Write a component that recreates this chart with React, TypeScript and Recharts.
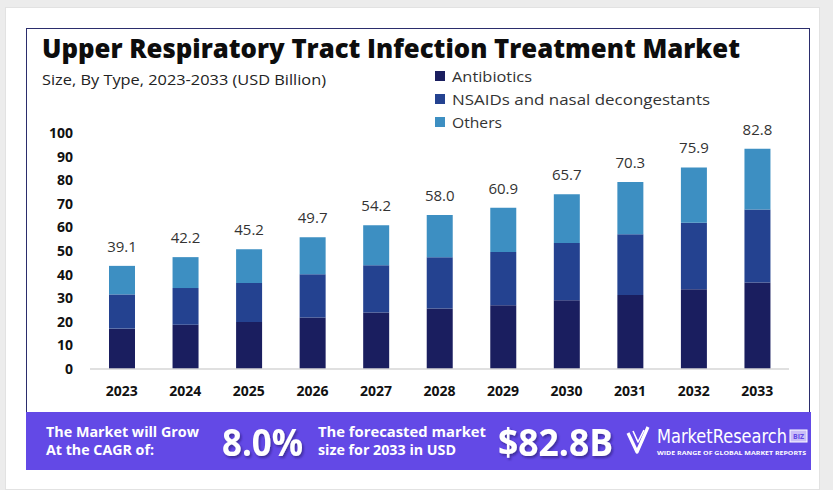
import { BarChart, Bar, XAxis, YAxis, Legend, LabelList } from "recharts"

const YEARS = ["2023", "2024", "2025", "2026", "2027", "2028", "2029", "2030", "2031", "2032", "2033"]
const ANTIBIOTICS = [17.1, 18.8, 19.9, 21.8, 23.9, 25.6, 27.0, 29.1, 31.4, 33.8, 36.7]
const NSAIDS = [14.5, 15.5, 16.5, 18.4, 20.1, 21.8, 22.6, 24.3, 25.7, 28.2, 30.9]
const OTHERS = [12.1, 13.1, 14.3, 15.6, 16.9, 17.9, 18.7, 20.6, 22.1, 23.4, 25.7]
const TOTAL_LABELS = ["39.1", "42.2", "45.2", "49.7", "54.2", "58.0", "60.9", "65.7", "70.3", "75.9", "82.8"]
const Y_TICKS = [0, 10, 20, 30, 40, 50, 60, 70, 80, 90, 100]

const SERIES = [
  { key: "antibiotics", name: "Antibiotics", color: "#1a1e5f", width: 80 },
  { key: "nsaids", name: "NSAIDs and nasal decongestants", color: "#244290", width: 258 },
  { key: "others", name: "Others", color: "#3d8fc2", width: 50 },
]

const data = YEARS.map((year, i) => ({
  year,
  antibiotics: ANTIBIOTICS[i],
  nsaids: NSAIDS[i],
  others: OTHERS[i],
  total: TOTAL_LABELS[i],
}))

const FONT = "'Open Sans', 'Noto Sans', sans-serif"
const PURPLE = "#6349e6"

const LegendBox = () => (
  <svg width={300} height={70} style={{ display: "block" }}>
    {SERIES.map((s, i) => (
      <g key={s.key} transform={`translate(0, ${i * 23})`}>
        <rect x={0} y={7} width={10} height={10} fill={s.color} />
        <text
          x={17}
          y={12}
          dominantBaseline="central"
          fontSize={15}
          fill="#333"
          fontFamily={FONT}
          textLength={s.width}
          lengthAdjust="spacingAndGlyphs"
        >
          {s.name}
        </text>
      </g>
    ))}
  </svg>
)

export default function App() {
  return (
    <div style={{ position: "fixed", left: 0, top: 0, width: 833, height: 490, background: "#ececec", overflow: "hidden" }}>
      {/* white panel + navy card + banner */}
      <div style={{ position: "absolute", left: 5, top: 7, width: 815, height: 483, background: "#fff", border: "1px solid #e2e2e2", boxSizing: "border-box" }} />
      <div style={{ position: "absolute", left: 26, top: 28, width: 784, height: 385, border: "1.5px solid #2b2d6c", borderBottom: "none", boxSizing: "border-box" }} />
      <div style={{ position: "absolute", left: 26, top: 412, width: 785, height: 58, background: PURPLE }} />

      <div style={{ position: "absolute", left: 0, top: 0 }}>
        <BarChart width={833} height={490} data={data} margin={{ top: 133, right: 44, bottom: 91, left: 30 }}>
          <XAxis
            dataKey="year"
            height={30}
            interval={0}
            tickLine={false}
            tickSize={0}
            tickMargin={17}
            axisLine={{ stroke: "#d6d6d6", strokeWidth: 1.5 }}
            tick={{ fontSize: 14, fontWeight: 700, fill: "#111", fontFamily: FONT }}
          />
          <YAxis
            type="number"
            domain={[0, 100]}
            ticks={Y_TICKS}
            interval={0}
            width={60}
            axisLine={false}
            tickLine={false}
            tickSize={0}
            tickMargin={17}
            tick={{ fontSize: 14, fontWeight: 700, fill: "#111", fontFamily: FONT }}
          />
          <Legend
            layout="vertical"
            align="center"
            verticalAlign="middle"
            wrapperStyle={{ left: 435, top: 64, width: 300 }}
            content={() => <LegendBox />}
          />
          {SERIES.map((s, i) => (
            <Bar key={s.key} dataKey={s.key} name={s.name} stackId="a" fill={s.color} barSize={26} isAnimationActive={false}>
              {i === SERIES.length - 1 && (
                <LabelList dataKey="total" position="top" offset={14} style={{ fontSize: 15, fill: "#333", fontFamily: FONT }} />
              )}
            </Bar>
          ))}
        </BarChart>
      </div>

      <svg width={833} height={490} style={{ position: "absolute", left: 0, top: 0, pointerEvents: "none" }}>
        <defs>
          <filter id="sh" x="-10%" y="-10%" width="130%" height="140%">
            <feDropShadow dx="1.5" dy="2" stdDeviation="1.2" floodColor="#1d1160" floodOpacity="0.55" />
          </filter>
        </defs>
        <text x={42} y={48} dominantBaseline="central" fontSize={26} fontWeight={800} fill="#0d0d0d" fontFamily={FONT} textLength={698} lengthAdjust="spacingAndGlyphs">
          Upper Respiratory Tract Infection Treatment Market
        </text>
        <text x={42} y={79} dominantBaseline="central" fontSize={15} fill="#222" fontFamily={FONT} textLength={284} lengthAdjust="spacingAndGlyphs">
          Size, By Type, 2023-2033 (USD Billion)
        </text>

        <g fill="#fff" fontFamily={FONT} fontWeight={700}>
          <text x={46} y={432} dominantBaseline="central" fontSize={13.5} textLength={153} lengthAdjust="spacingAndGlyphs">The Market will Grow</text>
          <text x={46} y={450} dominantBaseline="central" fontSize={13.5} textLength={108} lengthAdjust="spacingAndGlyphs">At the CAGR of:</text>
          <text x={222} y={441} dominantBaseline="central" fontSize={37} filter="url(#sh)" textLength={81} lengthAdjust="spacingAndGlyphs">8.0%</text>
          <text x={318} y={432} dominantBaseline="central" fontSize={13.5} textLength={168} lengthAdjust="spacingAndGlyphs">The forecasted market</text>
          <text x={318} y={450} dominantBaseline="central" fontSize={13.5} textLength={138} lengthAdjust="spacingAndGlyphs">size for 2033 in USD</text>
          <text x={498} y={441} dominantBaseline="central" fontSize={37} filter="url(#sh)" textLength={115} lengthAdjust="spacingAndGlyphs">$82.8B</text>
        </g>
        <g stroke="#fff" fill="none" strokeLinejoin="round">
          <path d="M628 433 L637 452 L648 427" strokeWidth={3.2} />
          <path d="M633 431 L638 442 L644 430" strokeWidth={1.6} />
        </g>
        <text x={657} y={436} dominantBaseline="central" fontSize={19} fill="#fff" fontFamily="'Liberation Sans Narrow', 'DejaVu Sans Condensed', sans-serif" textLength={130} lengthAdjust="spacingAndGlyphs">
          MarketResearch
        </text>
        <rect x={790} y={430} width={17} height={12} fill="#c9bdf7" stroke="#fff" strokeWidth={1} />
        <text x={798.5} y={436} textAnchor="middle" dominantBaseline="central" fontSize={7} fontWeight={700} fill={PURPLE} fontFamily={FONT}>BIZ</text>
        <text x={657} y={453} dominantBaseline="central" fontSize={5} fontWeight={700} fill="#fff" fontFamily={FONT} textLength={149} lengthAdjust="spacingAndGlyphs">
          WIDE RANGE OF GLOBAL MARKET REPORTS
        </text>
      </svg>
    </div>
  )
}
